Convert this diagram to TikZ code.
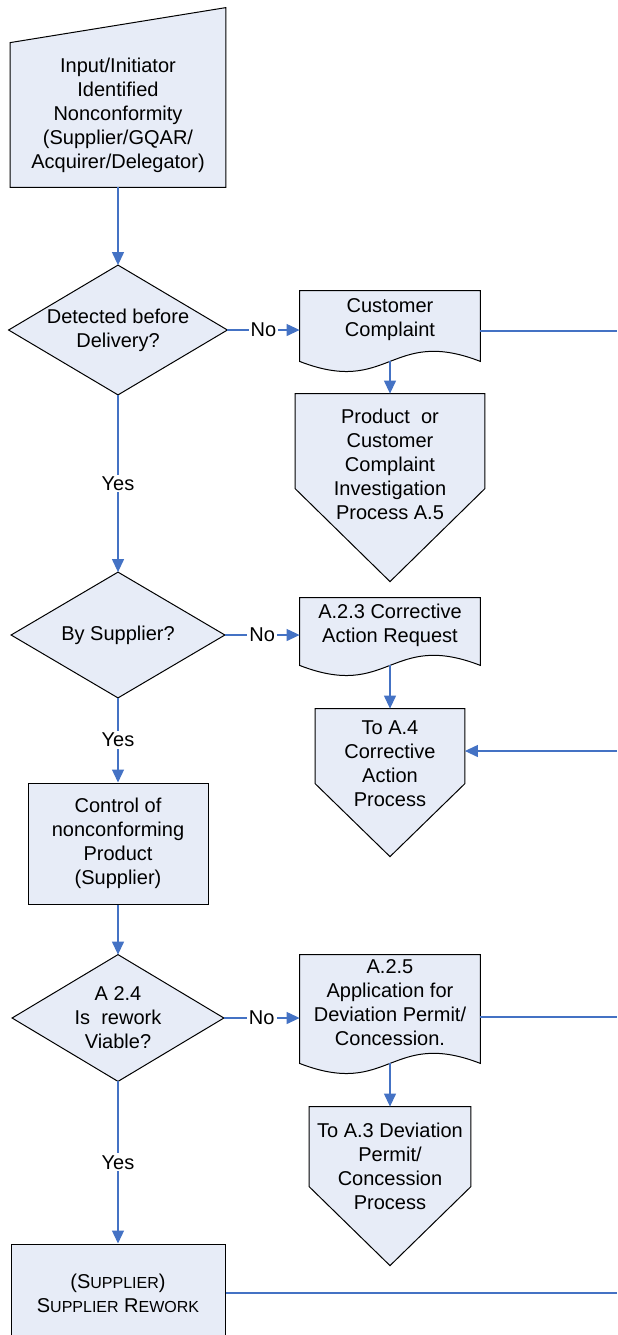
\documentclass[tikz,border=0pt]{standalone}
\usepackage{fontspec}
\setmainfont{Liberation Sans}
\usepackage{xcolor}
\usetikzlibrary{arrows.meta,calc,backgrounds}
\definecolor{FlowBlue}{RGB}{68,114,196}
\definecolor{ShapeFill}{RGB}{231,236,247}
\newcommand{\smc}[1]{{\fontsize{8}{12}\selectfont #1}}

\tikzset{
  holder/.style={rectangle, inner sep=0pt, align=center, font=\fontsize{10}{12}\selectfont},
  outline/.style={draw=black, fill=ShapeFill, line width=0.5pt},
  procbox/.style={holder, outline},
  link/.style={draw=FlowBlue, line width=0.6pt},
  arr/.style={link, -{Triangle[length=6.5pt,width=6pt]}},
  answer/.style={fill=white, inner sep=1pt, font=\fontsize{10}{12}\selectfont},
}

% outlines drawn round the text holders
\newcommand{\decisionshape}[1]{\path[outline] (#1.north) -- (#1.east) -- (#1.south) -- (#1.west) -- cycle;}
\newcommand{\docshape}[1]{\path[outline] (#1.north west) -- (#1.north east) -- ([yshift=-6pt]#1.south east) .. controls +(-90,-35) and +(90,35) .. ([yshift=-6pt]#1.south west) -- cycle;}
\newcommand{\offpageshape}[3]{\path[outline] (#1.north west) -- (#1.north east) -- ($(#1.north east)+(0,#2)$) -- ($(#1.north)+(0,#3)$) -- ($(#1.north west)+(0,#2)$) -- cycle;}

\begin{document}
\begin{tikzpicture}[x=0.5pt, y=-0.5pt]
\useasboundingbox (0,0) rectangle (617,1335);
\clip (0,0) rectangle (617,1335);

% Left column
\node[holder, minimum width=107.5pt, minimum height=72pt] (input) at (118,115) {Input/Initiator\\Identified\\Nonconformity\\(Supplier/GQAR/\\Acquirer/Delegator)};
\node[holder, minimum width=109pt, minimum height=64.5pt] (det) at (118,330) {Detected before\\Delivery?};
\node[holder, minimum width=106.5pt, minimum height=62.5pt] (bysup) at (118,635) {By Supplier?};
\node[procbox, minimum width=90pt, minimum height=60.5pt] (ctrl) at (118,843.5) {Control of\\nonconforming\\Product\\(Supplier)};
\node[holder, minimum width=105.5pt, minimum height=63pt] (rw) at (118,1018) {A 2.4\\Is~ rework\\Viable?};
\node[procbox, minimum width=107pt, minimum height=49.5pt] (rework) at (118,1293.5) {(S\smc{UPPLIER})\\S\smc{UPPLIER} R\smc{EWORK}};

% Right column
\node[holder, minimum width=90pt, minimum height=29pt] (cc) at (390,320) {Customer\\Complaint};
\node[holder, minimum width=94.5pt, minimum height=70.5pt] (ccinv) at (390,464.5) {Product~ or\\Customer\\Complaint\\Investigation\\Process A.5};
\node[holder, minimum width=90pt, minimum height=27.5pt] (car) at (390,625.5) {A.2.3 Corrective\\Action Request};
\node[holder, minimum width=74.5pt, minimum height=55pt] (toa4) at (390,764) {To A.4\\Corrective\\Action\\Process};
\node[holder, minimum width=90pt, minimum height=48pt] (app) at (390,1003) {A.2.5\\Application for\\Deviation Permit/\\Concession.};
\node[holder, minimum width=80.5pt, minimum height=59pt] (toa3) at (390,1166) {To A.3 Deviation\\Permit/\\Concession\\Process};

% Page edge
\coordinate (e1) at (617,331);
\coordinate (e2) at (617,751);
\coordinate (e3) at (617,1017);
\coordinate (e4) at (617,1293);

% Shapes
\begin{pgfonlayer}{background}
\path[outline] (input.south west) -- (input.north west) -- ($(input.north east)+(0,-35)$) -- (input.south east) -- cycle;
\decisionshape{det}
\decisionshape{bysup}
\decisionshape{rw}
\docshape{cc}
\docshape{car}
\docshape{app}
\offpageshape{ccinv}{95}{188}
\offpageshape{toa4}{75}{148}
\offpageshape{toa3}{80}{159}
\end{pgfonlayer}

% Connectors
\draw[arr] (input.south) -- (det.north);
\draw[arr] (det.east) -- node[answer]{No} (det.east -| cc.west);
\draw[link] (e1 -| cc.east) -- (e1);
\draw[arr] ([yshift=-6pt]cc.south) -- (ccinv.north);
\draw[arr] (det.south) -- node[answer]{Yes} (bysup.north);
\draw[arr] (bysup.east) -- node[answer]{No} (bysup.east -| car.west);
\draw[arr] ([yshift=-6pt]car.south) -- (toa4.north);
\draw[arr] (e2) -- (e2 -| toa4.east);
\draw[arr] (bysup.south) -- node[answer]{Yes} (ctrl.north);
\draw[arr] (ctrl.south) -- (rw.north);
\draw[arr] (rw.east) -- node[answer]{No} (rw.east -| app.west);
\draw[link] (e3 -| app.east) -- (e3);
\draw[arr] ([yshift=-6pt]app.south) -- (toa3.north);
\draw[arr] (rw.south) -- node[answer]{Yes} (rework.north);
\draw[link] (e4 -| rework.east) -- (e4);

\end{tikzpicture}
\end{document}
